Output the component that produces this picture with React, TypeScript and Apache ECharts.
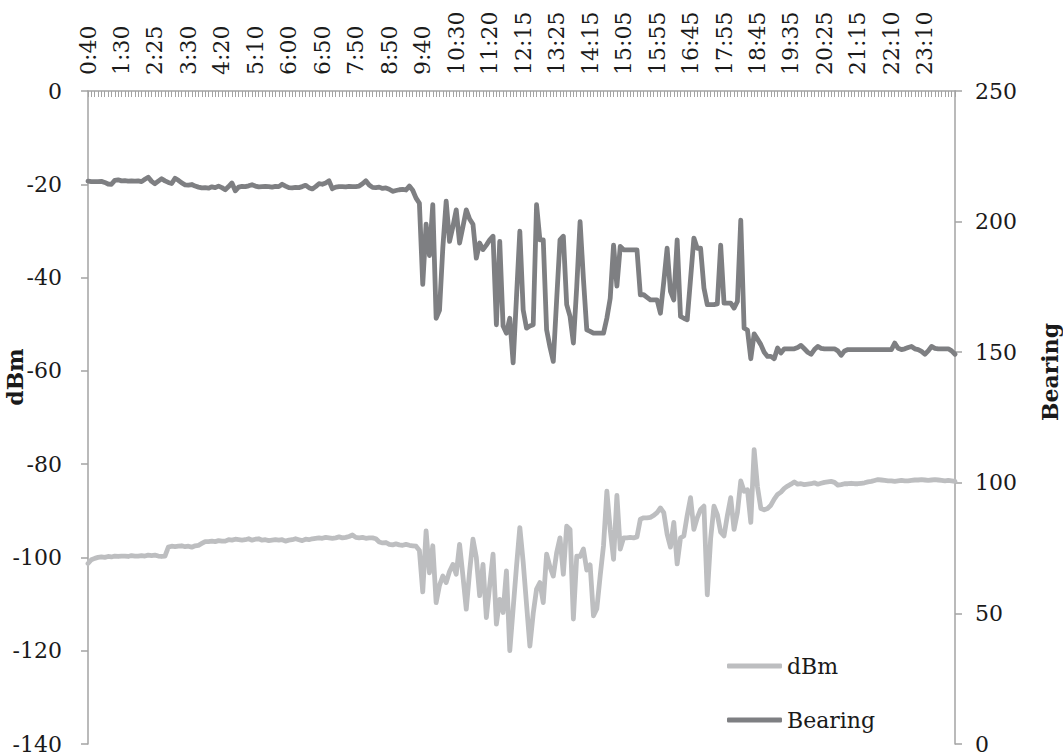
import React, { useEffect, useRef } from "react";
import * as echarts from "echarts";

const tickLabels = ["0:40","1:30","2:25","3:30","4:20","5:10","6:00","6:50","7:50","8:50","9:40","10:30","11:20","12:15","13:25","14:15","15:05","15:55","16:45","17:55","18:45","19:35","20:25","21:15","22:10","23:10"];
const samplesPerLabel = 10;
const sampleStepMinutes = 5;

function buildCategories(labels: string[]): string[] {
  const out: string[] = [];
  labels.forEach((lab) => {
    const [h, m] = lab.split(":").map(Number);
    const base = h * 60 + m;
    for (let j = 0; j < samplesPerLabel; j++) {
      const t = base + j * sampleStepMinutes;
      const hh = Math.floor(t / 60);
      const mm = t % 60;
      out.push(`${hh}:${mm < 10 ? "0" + mm : mm}`);
    }
  });
  return out;
}
const categories = buildCategories(tickLabels);

const dBm = [
  -101.3,-100.5,-100.2,-100.0,-99.9,-100.0,-99.8,-99.9,-99.7,-99.8,
  -99.7,-99.7,-99.8,-99.6,-99.7,-99.7,-99.6,-99.7,-99.5,-99.6,
  -99.5,-99.7,-99.8,-99.7,-97.8,-97.6,-97.7,-97.6,-97.5,-97.7,
  -97.6,-97.8,-97.5,-97.4,-97.0,-96.6,-96.6,-96.5,-96.6,-96.4,
  -96.5,-96.5,-96.2,-96.3,-96.1,-96.2,-96.3,-96.2,-96.0,-96.3,
  -96.1,-96.0,-96.3,-96.2,-96.4,-96.3,-96.2,-96.3,-96.2,-96.5,
  -96.3,-96.2,-96.0,-96.2,-96.4,-96.1,-96.2,-96.0,-95.9,-95.8,
  -95.9,-95.7,-95.8,-95.9,-95.8,-95.6,-95.8,-95.7,-95.5,-95.2,
  -95.7,-95.8,-95.7,-95.9,-95.8,-95.8,-96.0,-96.7,-96.9,-96.8,
  -97.2,-97.3,-97.1,-97.3,-97.4,-97.2,-97.4,-97.5,-97.6,-98.5,
  -107.4,-94.3,-103.3,-97.5,-109.7,-106.0,-104.0,-105.4,-103.0,-101.5,
  -103.6,-97.2,-104.0,-111.1,-103.0,-96.1,-100.0,-108.2,-101.5,-112.9,
  -106.0,-99.3,-114.3,-109.0,-111.8,-102.9,-120.0,-111.0,-102.0,-93.6,
  -101.0,-110.0,-119.0,-112.0,-106.8,-105.4,-109.7,-99.3,-102.0,-104.0,
  -99.0,-95.8,-103.6,-93.3,-94.0,-113.2,-99.7,-99.8,-98.2,-102.7,
  -101.6,-112.5,-111.0,-104.0,-97.5,-85.8,-94.0,-100.4,-86.7,-98.2,
  -95.8,-95.8,-95.7,-95.8,-95.6,-91.8,-91.5,-91.5,-91.4,-91.0,
  -90.4,-89.4,-90.4,-95.0,-97.8,-92.5,-101.4,-95.8,-95.4,-91.0,
  -87.2,-94.0,-91.5,-89.7,-89.0,-108.0,-96.0,-89.0,-90.8,-94.6,
  -95.4,-91.0,-87.2,-94.0,-90.4,-83.6,-85.8,-85.5,-92.5,-76.9,
  -84.9,-89.5,-89.8,-89.5,-88.8,-87.5,-86.5,-86.0,-85.2,-84.7,
  -84.3,-83.8,-84.3,-84.2,-84.4,-84.3,-84.2,-84.0,-84.3,-84.1,
  -83.9,-83.8,-83.7,-83.9,-84.5,-84.4,-84.2,-84.2,-84.1,-84.2,
  -84.2,-84.1,-84.0,-83.8,-83.7,-83.5,-83.3,-83.4,-83.5,-83.6,
  -83.6,-83.7,-83.6,-83.5,-83.6,-83.6,-83.5,-83.4,-83.4,-83.3,
  -83.4,-83.5,-83.4,-83.3,-83.4,-83.5,-83.6,-83.5,-83.6,-83.7,
];

const bearing = [
  215.5,215.3,215.3,215.3,215.4,215.0,214.4,214.3,215.8,216.0,
  215.6,215.7,215.5,215.6,215.5,215.6,215.3,216.2,217.0,215.4,
  214.5,215.5,216.4,215.6,215.0,214.6,216.6,215.8,214.8,214.1,
  214.0,214.2,213.6,213.2,212.9,213.0,212.8,213.3,213.0,213.6,
  213.0,212.2,213.4,214.8,211.8,213.2,213.5,213.4,213.7,214.1,
  213.6,213.3,213.4,213.5,213.4,213.2,213.5,213.4,214.3,213.6,
  213.0,212.9,213.1,213.0,213.4,213.9,213.0,212.5,213.4,214.5,
  214.3,214.8,215.6,212.6,213.2,213.4,213.4,213.3,213.5,213.4,
  213.4,213.6,214.5,215.6,214.0,213.1,213.0,213.2,212.7,212.9,
  212.4,211.6,211.9,212.2,212.3,212.1,213.6,212.0,209.0,207.0,
  176.0,199.0,187.0,206.5,163.0,166.0,190.0,207.8,192.4,198.0,
  204.5,191.8,198.0,204.5,201.0,199.0,186.0,191.8,189.3,191.0,
  193.0,194.4,160.5,192.4,160.0,157.3,163.0,145.9,171.0,196.3,
  166.2,159.2,160.0,160.5,206.5,193.0,193.0,158.6,152.0,146.5,
  170.0,193.0,194.4,168.2,163.7,153.5,175.0,200.0,178.0,158.6,
  158.0,157.3,157.3,157.3,157.3,163.0,170.6,191.0,175.3,190.5,
  189.2,189.2,189.2,189.2,189.2,172.0,172.0,171.0,170.0,170.0,
  170.0,164.9,177.0,189.8,173.3,170.0,193.0,163.7,163.0,162.4,
  178.0,193.7,189.8,189.8,174.6,168.2,168.2,168.2,168.5,191.0,
  168.8,168.8,168.8,166.9,169.4,200.6,159.2,158.5,147.5,157.0,
  155.0,152.9,150.0,148.4,148.4,147.5,151.6,149.7,151.3,151.3,
  151.3,151.3,151.8,152.6,151.3,150.0,149.2,151.0,152.2,151.5,
  151.3,151.3,151.3,151.3,150.5,148.8,150.5,151.0,151.0,151.0,
  151.0,151.0,151.0,151.0,151.0,151.0,151.0,151.0,151.0,151.0,
  151.0,153.5,151.5,151.0,151.3,151.8,152.2,151.3,151.0,150.3,
  149.2,150.5,152.2,151.5,151.3,151.3,151.3,151.3,150.5,149.2,
];

const FONT = '"DejaVu Serif", "Liberation Serif", serif';
const AXIS_GRAY = "#a3a3a3";
const TEXT = "#1a1a1a";

export default function App() {
  const ref = useRef<HTMLDivElement>(null);
  useEffect(() => {
    if (!ref.current) return;
    const chart = echarts.init(ref.current, null, { renderer: "svg" });
    chart.setOption({
      animation: false,
      backgroundColor: "#ffffff",
      grid: { left: 88, right: 108, top: 91, bottom: 10, containLabel: false },
      legend: {
        orient: "vertical",
        left: 722,
        top: 650,
        itemWidth: 55,
        itemHeight: 5,
        itemGap: 32,
        icon: "roundRect",
        textStyle: { fontFamily: FONT, fontSize: 22, color: TEXT },
        data: ["dBm", "Bearing"],
      },
      graphic: [
        {
          type: "text",
          x: 15,
          y: 377,
          rotation: Math.PI / 2,
          style: { text: "dBm", font: `bold 22px ${FONT}`, fill: TEXT, align: "center", verticalAlign: "middle" },
        },
        {
          type: "text",
          x: 1050,
          y: 372,
          rotation: Math.PI / 2,
          style: { text: "Bearing", font: `bold 22px ${FONT}`, fill: TEXT, align: "center", verticalAlign: "middle" },
        },
      ],
      xAxis: {
        type: "category",
        position: "top",
        boundaryGap: false,
        data: categories,
        axisLine: { show: true, lineStyle: { color: AXIS_GRAY, width: 1.5 } },
        axisTick: { show: true, inside: true, length: 6, interval: 0, lineStyle: { color: AXIS_GRAY, width: 1 } },
        axisLabel: {
          interval: 9,
          rotate: 90,
          margin: 16,
          hideOverlap: false,
          fontFamily: FONT,
          fontSize: 22,
          color: TEXT,
        },
        splitLine: { show: false },
      },
      yAxis: [
        {
          type: "value",
          min: -140,
          max: 0,
          interval: 20,
          position: "left",
          axisLine: { show: true, lineStyle: { color: AXIS_GRAY, width: 1.5 } },
          axisTick: { show: true, length: 7, lineStyle: { color: AXIS_GRAY, width: 1.5 } },
          axisLabel: { margin: 26, fontFamily: FONT, fontSize: 22, color: TEXT },
          splitLine: { show: false },
        },
        {
          type: "value",
          min: 0,
          max: 250,
          interval: 50,
          position: "right",
          axisLine: { show: true, lineStyle: { color: AXIS_GRAY, width: 1.5 } },
          axisTick: { show: true, length: 7, lineStyle: { color: AXIS_GRAY, width: 1.5 } },
          axisLabel: { margin: 20, fontFamily: FONT, fontSize: 22, color: TEXT },
          splitLine: { show: false },
        },
      ],
      series: [
        {
          name: "dBm",
          type: "line",
          yAxisIndex: 0,
          data: dBm,
          symbol: "none",
          color: "#bdbec0",
          lineStyle: { width: 4.8, color: "#bdbec0", cap: "round", join: "round" },
          z: 2,
        },
        {
          name: "Bearing",
          type: "line",
          yAxisIndex: 1,
          data: bearing,
          symbol: "none",
          color: "#7e7f82",
          lineStyle: { width: 4.8, color: "#7e7f82", cap: "round", join: "round" },
          z: 3,
        },
      ],
    });
    return () => chart.dispose();
  }, []);
  return (
    <div
      ref={ref}
      style={{ position: "absolute", left: 0, top: 0, width: 1063, height: 755, background: "#fff" }}
    />
  );
}
